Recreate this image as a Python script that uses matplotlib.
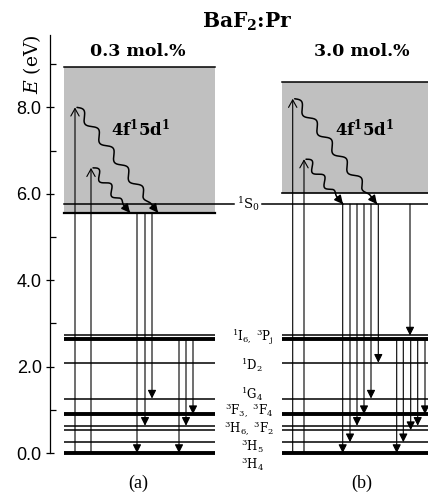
import numpy as np
import matplotlib
matplotlib.use('Agg')
import matplotlib.pyplot as plt
from matplotlib.ticker import FixedLocator

plt.rcParams['mathtext.fontset'] = 'dejavuserif'

# ---------------- data (energies in eV) ----------------
level_labels = [r'$^3$H$_4$', r'$^3$H$_5$', r'$^3$H$_{6,}$ $^3$F$_2$', r'$^3$F$_{3,}$ $^3$F$_4$',
                r'$^1$G$_4$', r'$^1$D$_2$', r'$^1$I$_{6,}$ $^3$P$_\mathrm{j}$']
level_E = [0.0, 0.25, 0.53, 0.63, 0.90, 1.26, 2.09, 2.65, 2.72]
level_thick = [True, False, False, False, True, False, False, True, False]
E_1S0 = 5.76
band_a = [5.56, 8.93]
band_b = [6.01, 8.59]

exc_a = [8.0, 6.6]
exc_b = [8.2, 6.8]
relax_a_to = [5.56, 5.56]
relax_b_to = [5.76, 5.76]

emis_a_from = [5.56, 5.56, 5.56, 2.65, 2.65, 2.65]
emis_a_to = [0.0, 0.63, 1.26, 0.0, 0.63, 0.90]
emis_b_from = [5.76, 5.76, 5.76, 5.76, 5.76, 5.76, 5.76, 2.65, 2.65, 2.65, 2.65, 2.65]
emis_b_to = [0.0, 0.25, 0.63, 0.90, 1.26, 2.09, 2.72, 0.0, 0.25, 0.53, 0.63, 0.90]

yticks = [0, 2, 4, 6, 8]
ytick_labels = ['0.0', '2.0', '4.0', '6.0', '8.0']
minor_ticks = [1, 3, 5, 7, 9]

# ---------------- layout (pixel x positions) ----------------
S = 43.2  # px per eV
W, H = 428, 496
y0px = 453
panel_a = dict(x0=64, x1=215, exc_x=[75, 91], relax_x=[158, 130],
               emis_x=[137, 145, 152, 179, 186, 193], label_x=138)
panel_b = dict(x0=282, x1=430, exc_x=[292.7, 304], relax_x=[377, 343],
               emis_x=[342.7, 350, 357, 364, 371, 378.3, 410, 396.7, 403.3, 410.7, 417.7, 425],
               label_x=362)

fig = plt.figure(figsize=(W / 100, H / 100), dpi=100)
ax = fig.add_axes([0, 0, 1, 1])
ax.set_xlim(0, W)
ax.set_ylim(-(H - y0px) / S, y0px / S)
ax.patch.set_visible(False)
for s in ['top', 'right', 'bottom']:
    ax.spines[s].set_visible(False)
ax.spines['left'].set_position(('data', 50))
ax.spines['left'].set_bounds(0, 9.68)
ax.spines['left'].set_linewidth(0.9)
ax.set_xticks([])
ax.set_yticks(yticks)
ax.set_yticklabels(ytick_labels, fontfamily='Liberation Sans', fontsize=13)
ax.yaxis.set_minor_locator(FixedLocator(minor_ticks))
ax.tick_params(axis='y', which='major', direction='inout', length=6, width=0.9, pad=3)
ax.tick_params(axis='y', which='minor', direction='in', length=4.5, width=0.9)

grey = '#c0c0c0'


def arrow(x, e0, e1, style='-|>', lw=0.8, hl=0.5, hw=0.25, ms=10):
    ax.annotate('', xy=(x, e1), xytext=(x, e0),
                arrowprops=dict(arrowstyle=f'{style},head_length={hl},head_width={hw}',
                                lw=lw, color='black', shrinkA=0, shrinkB=0,
                                mutation_scale=ms), zorder=5)


def wavy(xa, ea, xb, eb, periods, amp=3.8):
    p0 = np.array([xa, ea * S])
    p1 = np.array([xb, eb * S])
    d = p1 - p0
    L = np.hypot(*d)
    u = d / L
    n = np.array([-u[1], u[0]])
    tail = 10.0 / L  # straight final part (px -> fraction)
    t = np.linspace(0, 1, 600)
    env = np.clip((1 - tail - t) / (0.5 / periods), 0, 1)
    pts = p0[None, :] + t[:, None] * d[None, :] + (amp * np.sin(2 * np.pi * periods * t) * env)[:, None] * n[None, :]
    ax.plot(pts[:, 0], pts[:, 1] / S, color='black', lw=1.1, zorder=5, solid_capstyle='round')
    q = p0 + (1 - tail * 0.9) * d
    ax.annotate('', xy=(xb, eb), xytext=(q[0], q[1] / S),
                arrowprops=dict(arrowstyle='-|>,head_length=0.5,head_width=0.25', lw=1.1,
                                color='black', shrinkA=0, shrinkB=0, mutation_scale=10), zorder=5)


def panel(p, band, exc, relax_to, efrom, eto, lower_level_is_band):
    x0, x1 = p['x0'], p['x1']
    ax.fill_between([x0, x1], band[0], band[1], color=grey, lw=0, zorder=1)
    ax.plot([x0, x1], [band[1], band[1]], color='black', lw=1.1, zorder=3)
    ax.plot([x0, x1], [band[0], band[0]], color='black', lw=1.6 if lower_level_is_band else 1.2, zorder=3)
    for e, th in zip(level_E, level_thick):
        ax.plot([x0, x1], [e, e], color='black', lw=2.8 if th else 1.1, zorder=3,
                solid_capstyle='butt')
    for x, e in zip(p['exc_x'], exc):
        arrow(x, 0.0, e, style='->', lw=0.8, hl=0.45, hw=0.25, ms=12)
    for (xs, e), xe, et, per in zip(zip(p['exc_x'], exc), p['relax_x'], relax_to, [5.5, 3.0]):
        wavy(xs + 2, e, xe, et, per)
    for x, a, b in zip(p['emis_x'], efrom, eto):
        arrow(x, a, b)


panel(panel_a, band_a, exc_a, relax_a_to, emis_a_from, emis_a_to, True)
panel(panel_b, band_b, exc_b, relax_b_to, emis_b_from, emis_b_to, False)

# 1S0 level line (with gap for the label)
ax.plot([64, 234], [E_1S0, E_1S0], color='black', lw=1.1, zorder=3)
ax.plot([262, W], [E_1S0, E_1S0], color='black', lw=1.1, zorder=3)
ax.text(248, E_1S0, r'$^1$S$_0$', ha='center', va='center', fontsize=9.5, fontfamily='DejaVu Serif')

# level labels
label_pos = [-0.25, 0.16, 0.58, 0.99, 1.36, 2.04, 2.68]
label_x = [252, 252, 249, 249, 252, 252, 253]
for t, e, x in zip(level_labels, label_pos, label_x):
    ax.text(x, e, t, ha='center', va='center', fontsize=8.5, fontfamily='DejaVu Serif')

# titles
ax.text(247, (y0px - 22) / S, r'BaF$_\mathbf{2}$:Pr', ha='center', va='center', fontsize=14.5,
        fontweight='bold', fontfamily='DejaVu Serif')
ax.text(panel_a['label_x'], (y0px - 52) / S, '0.3 mol.%', ha='center', va='center', fontsize=12.5,
        fontweight='bold', fontfamily='DejaVu Serif')
ax.text(panel_b['label_x'], (y0px - 52) / S, '3.0 mol.%', ha='center', va='center', fontsize=12.5,
        fontweight='bold', fontfamily='DejaVu Serif')
for p in [panel_a, panel_b]:
    ax.text(p['label_x'] + 3, (y0px - 128) / S, r'4f$^\mathbf{1}$5d$^\mathbf{1}$', ha='center', va='center',
            fontsize=12, fontweight='bold', fontfamily='DejaVu Serif', zorder=6)

ax.text(panel_a['label_x'], (y0px - 483) / S, '(a)', ha='center', va='center', fontsize=13,
        fontfamily='Liberation Serif')
ax.text(panel_b['label_x'], (y0px - 483) / S, '(b)', ha='center', va='center', fontsize=13,
        fontfamily='Liberation Serif')

ax.text(32, (y0px - 64) / S, r'$E$ (eV)', rotation=90, ha='center', va='center', fontsize=13.5,
        fontfamily='DejaVu Serif')

fig.savefig('out.png', dpi=100)
